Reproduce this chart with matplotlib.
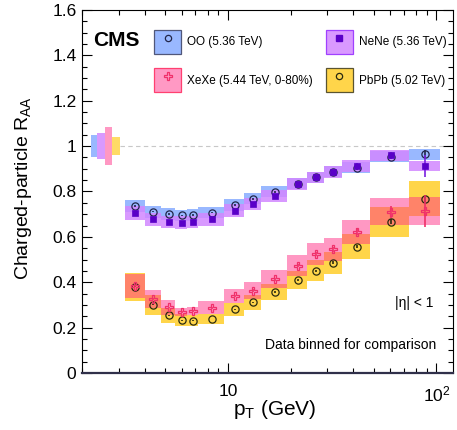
import matplotlib
matplotlib.use('Agg')
import matplotlib.pyplot as plt
import numpy as np
from matplotlib.patches import Patch
from matplotlib.lines import Line2D
from matplotlib.ticker import FixedLocator, MultipleLocator, FuncFormatter, LogLocator, NullFormatter

plt.rcParams['font.family'] = ['Liberation Sans', 'DejaVu Sans']
plt.rcParams['mathtext.fontset'] = 'custom'
plt.rcParams['mathtext.rm'] = 'Liberation Sans'
plt.rcParams['mathtext.it'] = 'Liberation Sans:italic'
plt.rcParams['mathtext.bf'] = 'Liberation Sans:bold'

# pT bin edges (GeV)
pt_edges = [3.2, 4.0, 4.8, 5.6, 6.4, 7.2, 9.6, 12.0, 14.4, 19.2, 24.0, 28.8, 35.2, 48.0, 73.6, 103.6]

# R_AA values per bin
oo_raa = [0.736, 0.711, 0.700, 0.695, 0.696, 0.706, 0.741, 0.768, 0.799, 0.835, 0.862, 0.887, 0.905, 0.953, 0.963]
nene_raa = [0.704, 0.677, 0.665, 0.662, 0.665, 0.677, 0.715, 0.744, 0.780, 0.833, 0.862, 0.887, 0.912, 0.960, 0.912]
xexe_raa = [0.383, 0.325, 0.289, 0.270, 0.273, 0.288, 0.340, 0.363, 0.413, 0.473, 0.524, 0.545, 0.622, 0.711, 0.715]
pbpb_raa = [0.380, 0.300, 0.254, 0.233, 0.230, 0.238, 0.280, 0.312, 0.357, 0.410, 0.451, 0.486, 0.556, 0.667, 0.768]

# statistical uncertainties
oo_stat = [0.003, 0.003, 0.003, 0.003, 0.003, 0.003, 0.004, 0.004, 0.005, 0.006, 0.007, 0.008, 0.010, 0.012, 0.022]
nene_stat = [0.003, 0.003, 0.003, 0.003, 0.003, 0.003, 0.004, 0.004, 0.005, 0.006, 0.007, 0.009, 0.012, 0.015, 0.050]
xexe_stat = [0.004, 0.004, 0.004, 0.004, 0.004, 0.004, 0.005, 0.006, 0.007, 0.008, 0.010, 0.012, 0.015, 0.026, 0.070]
pbpb_stat = [0.002, 0.002, 0.002, 0.002, 0.002, 0.002, 0.002, 0.003, 0.003, 0.004, 0.005, 0.006, 0.007, 0.010, 0.015]

# systematic uncertainties (boxes)
oo_sys = [0.027, 0.026, 0.025, 0.025, 0.025, 0.025, 0.025, 0.025, 0.025, 0.024, 0.024, 0.024, 0.024, 0.024, 0.025]
nene_sys = [0.030, 0.030, 0.028, 0.028, 0.028, 0.028, 0.028, 0.027, 0.027, 0.026, 0.026, 0.026, 0.026, 0.025, 0.023]
xexe_sys = [0.053, 0.040, 0.032, 0.018, 0.018, 0.028, 0.030, 0.037, 0.040, 0.045, 0.048, 0.050, 0.053, 0.060, 0.062]
pbpb_sys = [0.062, 0.044, 0.032, 0.028, 0.025, 0.022, 0.030, 0.033, 0.037, 0.040, 0.045, 0.048, 0.055, 0.066, 0.078]

# normalisation uncertainties (OO, NeNe, XeXe, PbPb)
norm_unc = [0.049, 0.056, 0.083, 0.040]

labels = ['OO (5.36 TeV)', 'NeNe (5.36 TeV)', 'XeXe (5.44 TeV, 0-80%)', 'PbPb (5.02 TeV)']

# colori
c_oo, c_nene, c_xexe, c_pbpb = '#99b8ff', '#d287ff', '#ff3389', '#ffd54a'
a_oo, a_nene, a_xexe, a_pbpb = 1.0, 0.85, 0.5, 1.0

edges = np.array(pt_edges)
lo, hi = edges[:-1], edges[1:]
centers = (lo + hi) / 2

fig = plt.figure(figsize=(4.57, 4.30), dpi=100)
ax = fig.add_axes([0.1794, 0.1326, 0.8118, 0.8442])
ax.set_xscale('log')


def sys_boxes(vals, sys, color, alpha, z):
    vals = np.array(vals)
    sys = np.array(sys)
    ax.bar(lo, 2 * sys, width=hi - lo, bottom=vals - sys, align='edge',
           color=color, alpha=alpha, linewidth=0, zorder=z)


sys_boxes(oo_raa, oo_sys, c_oo, a_oo, 2)
sys_boxes(nene_raa, nene_sys, c_nene, a_nene, 3)
sys_boxes(pbpb_raa, pbpb_sys, c_pbpb, a_pbpb, 2)
sys_boxes(xexe_raa, xexe_sys, c_xexe, a_xexe, 3)

# box di normalizzazione a sinistra
norm_edges = np.array([2.2, 2.36, 2.58, 2.79, 3.04])
nu = np.array(norm_unc)
ax.bar(norm_edges[:-1], 2 * nu, width=np.diff(norm_edges), bottom=1 - nu, align='edge',
       color=[c_oo, c_nene, c_xexe, c_pbpb], linewidth=0, zorder=2)
for patch, a in zip(ax.patches[-4:], [a_oo, a_nene, a_xexe, 0.85]):
    patch.set_alpha(a)

ax.plot([3.04, 120], [1, 1], ls=(0, (4, 3)), color='#c8c8c8', lw=0.8, zorder=1)

# punti
ax.errorbar(centers, oo_raa, yerr=oo_stat, fmt='o', mfc='none', mec='#22264a', color='#22264a',
            ms=5.2, mew=0.9, elinewidth=1.2, capsize=0, zorder=6)
ax.errorbar(centers, nene_raa, yerr=nene_stat, fmt='s', mfc='#5a00c8', mec='#5a00c8', color='#7a20e0',
            ms=4.5, mew=0.5, elinewidth=1.2, capsize=0, zorder=7)
ax.errorbar(centers, pbpb_raa, yerr=pbpb_stat, fmt='o', mfc='none', mec='#2a2a10', color='#2a2a10',
            ms=5.2, mew=0.9, elinewidth=1.2, capsize=0, zorder=6)
ax.errorbar(centers, xexe_raa, yerr=xexe_stat, fmt='P', mfc='none', mec='#f0306a', color='#f0306a',
            ms=6, mew=0.9, elinewidth=1.2, capsize=0, zorder=7)

ax.set_xlim(2, 120)
ax.set_ylim(0, 1.6)

ax.xaxis.set_major_locator(FixedLocator([10, 100]))
ax.xaxis.set_major_formatter(FuncFormatter(lambda v, p: '10' if v < 50 else r'$10^{2}$'))
ax.xaxis.set_minor_locator(LogLocator(base=10, subs=np.arange(2, 10), numticks=20))
ax.xaxis.set_minor_formatter(NullFormatter())
ax.yaxis.set_major_locator(MultipleLocator(0.2))
ax.yaxis.set_minor_locator(MultipleLocator(0.05))
ax.yaxis.set_major_formatter(FuncFormatter(lambda v, p: '%g' % round(v, 2)))

ax.tick_params(which='both', direction='in', top=True, right=True, width=0.8)
ax.tick_params(which='major', length=7, labelsize=12.5)
ax.tick_params(which='minor', length=3.5)
ax.tick_params(axis='x', which='major', pad=8)
ax.tick_params(axis='y', which='major', pad=4)
ax.spines['bottom'].set_color('#30304a')
ax.spines['bottom'].set_linewidth(1.6)

ax.set_ylabel(r'Charged-particle R$_{\mathrm{AA}}$', fontsize=14)
ax.yaxis.set_label_coords(-0.13, 0.51)
ax.set_xlabel(r'p$_{\mathrm{T}}$ (GeV)', fontsize=15)
ax.xaxis.set_label_coords(0.52, -0.068)

ax.text(0.03, 0.917, 'CMS', transform=ax.transAxes, fontsize=15, fontweight='bold', va='center')
ax.text(0.946, 0.193, '|η| < 1', transform=ax.transAxes, fontsize=10, ha='right', va='center')
ax.text(0.954, 0.077, 'Data binned for comparison', transform=ax.transAxes, fontsize=10,
        ha='right', va='center')

# legenda
h_oo = (Patch(facecolor=c_oo, edgecolor='#50577a', lw=0.9),
        Line2D([], [], ls='none', marker='o', mfc='none', mec='#22264a', ms=4.5, mew=0.9))
h_nene = (Patch(facecolor='#d999ff', edgecolor='#a040ff', lw=0.9),
          Line2D([], [], ls='none', marker='s', mfc='#5a00c8', mec='#5a00c8', ms=4))
h_xexe = (Patch(facecolor='#ff99c4', edgecolor='#ff4070', lw=0.9),
          Line2D([], [], ls='none', marker='P', mfc='none', mec='#f0306a', ms=5.5, mew=0.9))
h_pbpb = (Patch(facecolor=c_pbpb, edgecolor='#5a5430', lw=0.9),
          Line2D([], [], ls='none', marker='o', mfc='none', mec='#2a2a10', ms=4.5, mew=0.9))
ax.legend([h_oo, h_xexe, h_nene, h_pbpb], [labels[0], labels[2], labels[1], labels[3]],
          ncol=2, loc='upper left', bbox_to_anchor=(0.194, 0.945), frameon=False,
          fontsize=8.5, borderpad=0, borderaxespad=0, handlelength=2.3, handleheight=2.75,
          handletextpad=0.5, labelspacing=1.2, columnspacing=1.1)

fig.savefig('out.png', dpi=100)
